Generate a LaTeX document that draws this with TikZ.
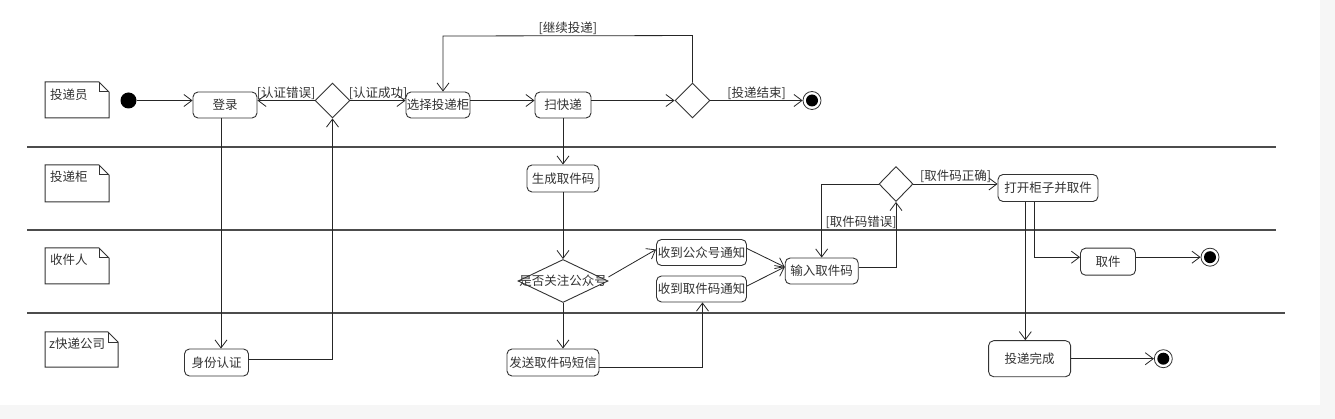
\documentclass[tikz,border=0pt]{standalone}
\usepackage{fontspec}
\newfontfamily\cjk{Noto Sans CJK SC}
\usetikzlibrary{arrows.meta,shapes.geometric}
\definecolor{bggray}{HTML}{F6F6F6}
\definecolor{ink}{HTML}{333333}
\begin{document}
\begin{tikzpicture}[x=1pt,y=-1pt,
  txt/.style={font=\cjk\fontsize{12.5}{14}\selectfont, text=ink},
  act/.style={txt, draw=ink, rounded corners=5pt, line width=0.9pt, inner sep=0pt},
  dec/.style={draw=ink, diamond, inner sep=0pt, minimum width=35pt, minimum height=35pt, line width=0.9pt},
  arr/.style={-{Straight Barb[length=8pt,width=12pt]}, line width=0.8pt, draw=black!85},
  lnk/.style={line width=0.8pt, draw=black!85},
  lbl/.style={txt, inner sep=1pt},
  lane/.style={line width=2.6pt, draw=black!70},
  notebox/.style={line width=1pt, draw=ink},
  initial/.style={circle, fill=black, minimum size=16pt, inner sep=0pt},
  final/.style={circle, draw=ink, line width=0.8pt, minimum size=18pt, inner sep=0pt,
    path picture={\fill[black] (path picture bounding box.center) circle (6pt);}}
]
\fill[bggray] (0,0) rectangle (1335,419);
\fill[white] (0,0) rectangle (1320,405);
\useasboundingbox (0,0) rectangle (1335,419);

% swimlane separators
\draw[lane] (27,147) -- (1276,147);
\draw[lane] (27,230) -- (1276,230);
\draw[lane] (27,313) -- (1285,313);

% lane notes
\draw[notebox] (45,82) -- (99,82) -- (109,92) -- (109,118) -- (45,118) -- cycle;
\draw[notebox] (99,82) -- (99,92) -- (109,92);
\node[txt, anchor=west, inner sep=0pt] (n1) at (50,95) {投递员};
\draw[notebox] (45,165) -- (99,165) -- (109,175) -- (109,202) -- (45,202) -- cycle;
\draw[notebox] (99,165) -- (99,175) -- (109,175);
\node[txt, anchor=west, inner sep=0pt] (n2) at (50,177) {投递柜};
\draw[notebox] (45,248) -- (99,248) -- (109,258) -- (109,284) -- (45,284) -- cycle;
\draw[notebox] (99,248) -- (99,258) -- (109,258);
\node[txt, anchor=west, inner sep=0pt] (n3) at (50,260) {收件人};
\draw[notebox] (45,332) -- (108,332) -- (118,342) -- (118,367) -- (45,367) -- cycle;
\draw[notebox] (108,332) -- (108,342) -- (118,342);
\node[txt, anchor=west, inner sep=0pt] (n4) at (49,344) {z快递公司};

% nodes
\node[initial] (st) at (128.5,100.5) {};
\node[act, minimum width=64pt, minimum height=26pt] (dl) at (225,105) {登录};
\node[dec] (d1) at (332.5,100.5) {};
\node[act, minimum width=64pt, minimum height=26pt] (xz) at (438,105) {选择投递柜};
\node[act, minimum width=56pt, minimum height=26pt] (sk) at (563,105) {扫快递};
\node[dec] (d2) at (692.5,100.5) {};
\node[final] (e1) at (812,100.5) {};
\node[act, minimum width=72pt, minimum height=27pt] (sc) at (563,178.5) {生成取件码};
\node[dec, minimum width=90pt, minimum height=43pt] (d3) at (563,281) {};
\node[txt, inner sep=0pt] (d3t) at (563,281) {是否关注公众号};
\node[act, minimum width=90pt, minimum height=26pt] (gz) at (701.5,252.5) {收到公众号通知};
\node[act, minimum width=90pt, minimum height=26pt] (qm) at (701.5,289) {收到取件码通知};
\node[act, minimum width=73pt, minimum height=26pt] (sr) at (821.7,271) {输入取件码};
\node[act, minimum width=92pt, minimum height=27pt] (fs) at (553,362.5) {发送取件码短信};
\node[act, minimum width=64pt, minimum height=27pt] (sf) at (216.5,362.5) {身份认证};
\node[dec, minimum width=34pt] (d4) at (896,184) {};
\node[act, minimum width=100pt, minimum height=27pt] (dk) at (1048,188) {打开柜子并取件};
\node[act, minimum width=55pt, minimum height=27pt] (qj) at (1108,261.7) {取件};
\node[final] (e2) at (1210,257.2) {};
\node[act, minimum width=82pt, minimum height=36pt] (wc) at (1029.6,358.7) {投递完成};
\node[final] (e3) at (1163.3,358.7) {};
\node[lbl] (lerr) at (861,222) {[取件码错误]};

% connectors
\draw[arr] (st) -- (st -| dl.west);
\draw[arr] (d1.west) -- node[lbl, above, inner sep=0.5pt] (l1) {[认证错误]} (d1.west -| dl.east);
\draw[arr] (d1.east) -- node[lbl, above, inner sep=0.5pt] (l2) {[认证成功]} (d1.east -| xz.west);
\draw[arr] (xz.east |- d1.east) -- (sk.west |- d1.east);
\draw[arr] (sk.east |- d2.west) -- (d2.west);
\draw[arr] (d2.east) -- node[lbl, above, inner sep=0.5pt] (l3) {[投递结束]} (e1.west);
\draw[arr] (d2.north) -- ++(0,-47) -- node[lbl, above, inner sep=0.5pt] (l4) {[继续投递]} ([xshift=5pt]xz.north |- 0,36) -- ([xshift=5pt]xz.north);
\draw[arr] ([xshift=-4pt]dl.south) -- ([xshift=-4pt]dl.south |- sf.north);
\draw[arr] ([yshift=3.5pt]sf.east) -| (d1.south);
\draw[arr] (sk.south) -- (sc.north);
\draw[arr] (sc.south) -- (d3.north);
\draw[arr] ([yshift=4pt]d3.east) -- ([yshift=3pt]gz.west);
\draw[arr] (d3.south) -- (d3.south |- fs.north);
\draw[arr] ([yshift=-5pt]fs.east) -| ([xshift=1pt]qm.south);
\draw[arr] ([yshift=4pt]gz.east) -- ([yshift=4pt]sr.west);
\draw[arr] ([yshift=3pt]qm.east) -- ([yshift=4pt]sr.west);
\draw[arr] ([yshift=4pt]sr.east) -| (d4.south);
\draw[arr] (d4.west) -| (sr.north);
\draw[arr] (d4.east) -- node[lbl, above, inner sep=0.5pt] (l5) {[取件码正确]} (d4.east -| dk.west);
\draw[arr] ([xshift=-13.5pt]dk.south) |- ([yshift=4.5pt]qj.west);
\draw[arr] ([yshift=4.5pt]qj.east) -- (e2.west);
\draw[arr] ([xshift=-22.7pt]dk.south) -- ([xshift=-22.7pt]dk.south |- wc.north);
\draw[arr] (wc.east) -- (e3.west);
\end{tikzpicture}
\end{document}
